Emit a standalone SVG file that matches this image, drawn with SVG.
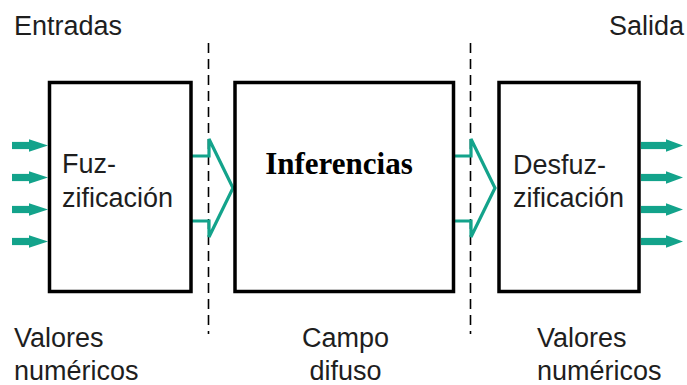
<svg xmlns="http://www.w3.org/2000/svg" width="687" height="385" viewBox="0 0 687 385">
  <defs>
    <style>
      .box { fill: #ffffff; stroke: #000000; stroke-width: 3.5; }
      .lbl { font-family: "Liberation Sans", Arial, sans-serif; font-size: 27px; fill: #1e1e1e; }
      .title { font-family: "Liberation Serif", "Times New Roman", serif; font-size: 31px; font-weight: bold; fill: #000000; }
      .sep { stroke: #000000; stroke-width: 1.6; stroke-dasharray: 10 6; fill: none; }
      .chev { fill: none; stroke: #13a38b; stroke-width: 3.2; stroke-linejoin: miter; }
      .io { fill: #13a38b; }
    </style>
    <!-- short input arrow and longer output arrow -->
    <g id="inArrow">
      <rect x="0" y="-3.6" width="19" height="7.2"/>
      <polygon points="17,-6.3 36,0 17,6.3"/>
    </g>
    <g id="outArrow">
      <rect x="0" y="-3.6" width="27" height="7.2"/>
      <polygon points="25,-6.3 42,0 25,6.3"/>
    </g>
  </defs>

  <rect width="687" height="385" fill="#ffffff"/>

  <!-- stage separators -->
  <g id="separators">
    <line class="sep" x1="208.5" y1="43" x2="208.5" y2="334"/>
    <line class="sep" x1="470.5" y1="43" x2="470.5" y2="334"/>
  </g>

  <!-- connectors -->
  <g id="connectors">
    <g class="io">
      <use href="#inArrow" x="12" y="145.5"/>
      <use href="#inArrow" x="12" y="177.5"/>
      <use href="#inArrow" x="12" y="209.5"/>
      <use href="#inArrow" x="12" y="241.5"/>
      <use href="#outArrow" x="641" y="145.5"/>
      <use href="#outArrow" x="641" y="177.5"/>
      <use href="#outArrow" x="641" y="209.5"/>
      <use href="#outArrow" x="641" y="241.5"/>
    </g>
    <polyline class="chev" points="192,156 209,156 209,139 233,188 209,237 209,221 192,221"/>
    <polyline class="chev" points="455,156 471,156 471,139 495,188 471,237 471,221 455,221"/>
  </g>

  <g id="fuzzification">
    <rect class="box" x="49.5" y="82.5" width="141.5" height="209"/>
    <text class="lbl" x="62" y="173">Fuz-</text>
    <text class="lbl" x="62" y="207">zificación</text>
  </g>

  <g id="inference">
    <rect class="box" x="235" y="82.5" width="218.5" height="209"/>
    <text class="title" x="339" y="174" text-anchor="middle">Inferencias</text>
  </g>

  <g id="defuzzification">
    <rect class="box" x="499" y="82.5" width="140" height="209"/>
    <text class="lbl" x="513" y="174">Desfuz-</text>
    <text class="lbl" x="513" y="207">zificación</text>
  </g>

  <!-- captions -->
  <g id="captions">
    <text class="lbl" x="14" y="35">Entradas</text>
    <text class="lbl" x="684" y="35" text-anchor="end">Salida</text>
    <text class="lbl" x="14" y="347">Valores</text>
    <text class="lbl" x="14" y="380">numéricos</text>
    <text class="lbl" x="345.5" y="347" text-anchor="middle">Campo</text>
    <text class="lbl" x="345.5" y="380" text-anchor="middle">difuso</text>
    <text class="lbl" x="537" y="347">Valores</text>
    <text class="lbl" x="537" y="380">numéricos</text>
  </g>
</svg>
